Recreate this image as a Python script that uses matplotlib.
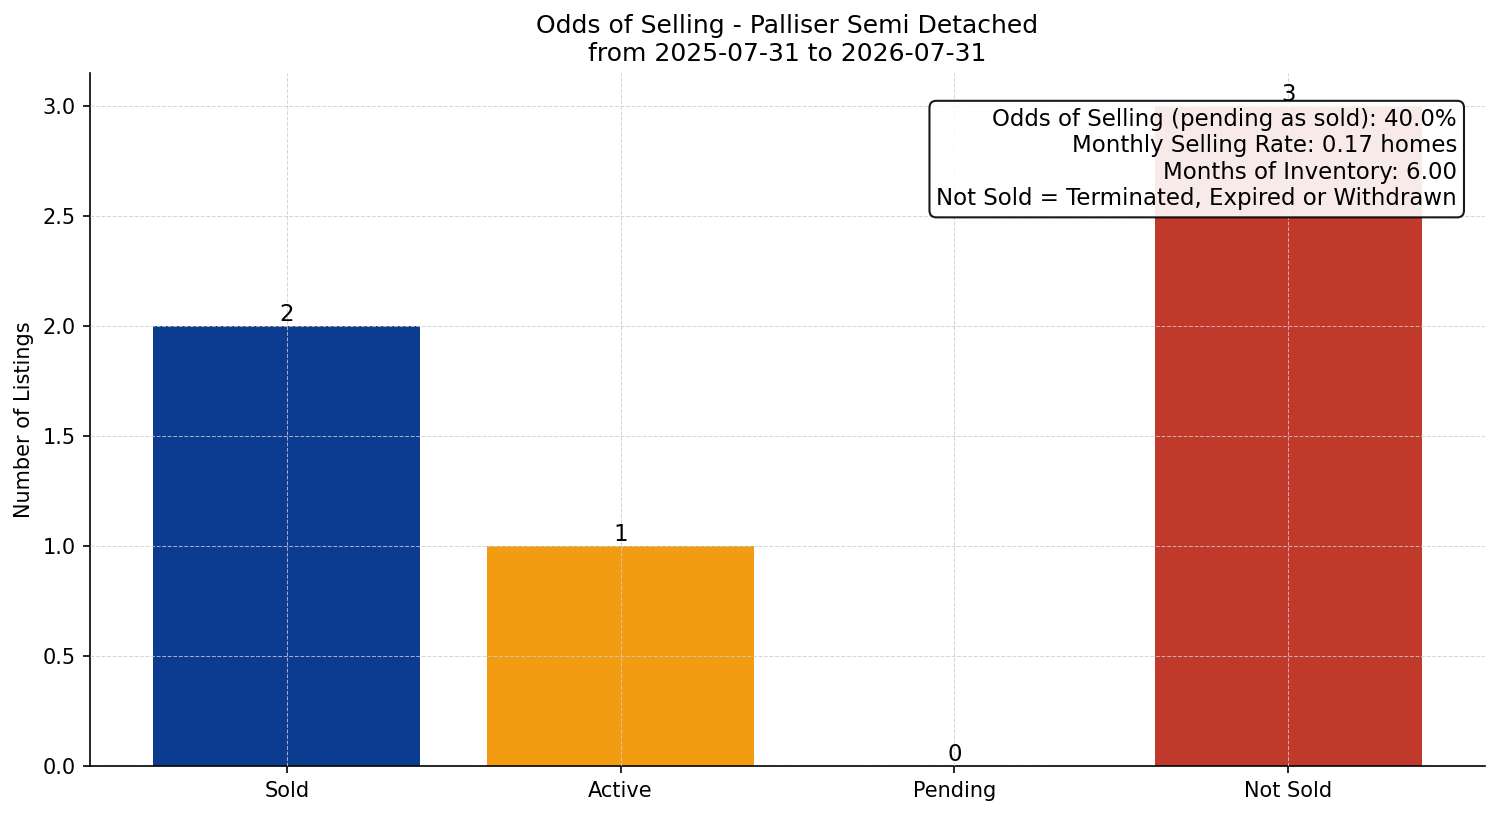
import matplotlib
matplotlib.use("Agg")
import matplotlib.pyplot as plt

categories = ["Sold", "Active", "Pending", "Not Sold"]
counts = [2, 1, 0, 3]
colors = ["#0b3c8f", "#f39c12", "#a0a0a0", "#c0392b"]
title = "Odds of Selling - Palliser Semi Detached\nfrom 2025-07-31 to 2026-07-31"
info_lines = [
    "Odds of Selling (pending as sold): 40.0%",
    "Monthly Selling Rate: 0.17 homes",
    "Months of Inventory: 6.00",
    "Not Sold = Terminated, Expired or Withdrawn",
]

fig, ax = plt.subplots(figsize=(10.0, 5.44), dpi=150)
fig.subplots_adjust(left=0.06, right=0.99, top=0.9105, bottom=0.0613)
bars = ax.bar(categories, counts, color=colors, width=0.8, zorder=1)
for b, v in zip(bars, counts):
    ax.text(b.get_x() + b.get_width() / 2, v, str(v), ha="center", va="bottom", fontsize=11, zorder=3)

ax.set_ylim(0, max(counts) * 1.05)
ax.set_ylabel("Number of Listings", fontsize=10)
ax.set_title(title, fontsize=12)
ax.grid(True, linestyle="--", linewidth=0.5, color="#cccccc", alpha=0.8, zorder=2)
ax.set_axisbelow(False)
for s in ["top", "right"]:
    ax.spines[s].set_visible(False)

ax.text(0.98, 0.95, "\n".join(info_lines), transform=ax.transAxes, ha="right", va="top",
        fontsize=11, zorder=4,
        bbox=dict(boxstyle="round,pad=0.3", facecolor="white", edgecolor="black", alpha=0.9))

fig.savefig("out.png", dpi=150)
